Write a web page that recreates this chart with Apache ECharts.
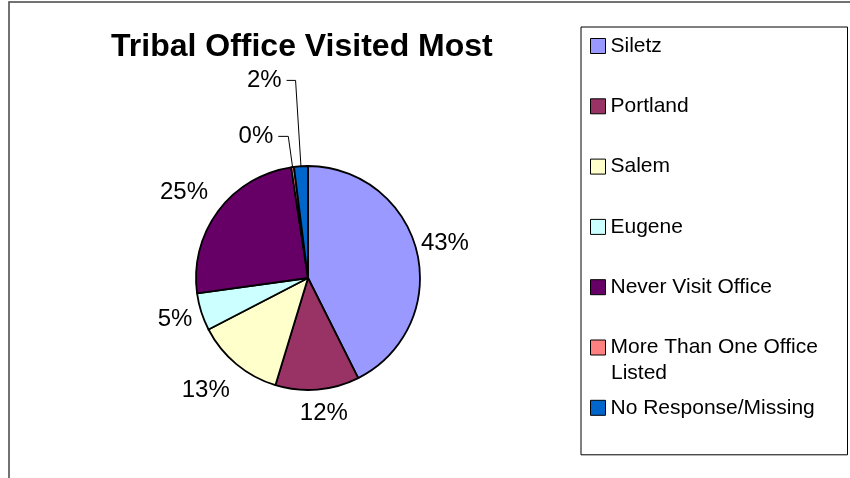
<!DOCTYPE html>
<html>
<head>
<meta charset="utf-8">
<script src="https://cdn.jsdelivr.net/npm/echarts@6/dist/echarts.min.js"></script>
<style>
  html, body { margin: 0; padding: 0; background: #fff; }
  #chart { width: 850px; height: 478px; }
</style>
</head>
<body>
<div id="chart"></div>
<script>
// slices, clockwise from 12 o'clock (percent of respondents)
const offices = ["Siletz", "Portland", "Salem", "Eugene", "Never Visit Office", "More Than One Office Listed", "No Response/Missing"];
const shares = [42.6, 12.1, 12.7, 5.4, 24.8, 0.4, 2.0];
const colors = ["#9999FF", "#993366", "#FFFFCC", "#CCFFFF", "#660066", "#FF8080", "#0066CC"];

// label placement: leader lines only on the two thin slices
const showLine = [false, false, false, false, false, true, true];
const lineLen = [4, 4, 4, 4, 4, 31, 86];
const lineLen2 = [0, 0, 0, 0, 0, 10, 9];
const labelShift = [[-5, -8], [-23, 20], [1, 23], [0, 6], [-2, -16], null, null];

// the long legend entry wraps onto a second line like the original
const wrapName = "More Than One Office Listed";
const wrapFirst = "More Than One Office";
const wrapRest = "Listed";

const font = "'Liberation Sans', Arial, sans-serif";

let pieData = [];
offices.forEach((name, i) => {
  pieData.push({
    name: name,
    value: shares[i],
    itemStyle: { color: colors[i] },
    labelLine: { show: showLine[i], length: lineLen[i], length2: lineLen2[i] },
  });
});

const chart = echarts.init(document.getElementById("chart"));
chart.setOption({
  animation: false,
  backgroundColor: "#fff",
  graphic: [
    {
      type: "rect",
      shape: { x: 9, y: 2, width: 900, height: 500 },
      style: { fill: "none", stroke: "#444", lineWidth: 1.5 },
      silent: true,
    },
    {
      type: "text",
      x: 611,
      y: 373,
      z: 100,
      style: {
        text: wrapRest,
        font: "21px " + font,
        fill: "#000",
        verticalAlign: "middle",
      },
      silent: true,
    },
  ],
  title: {
    text: "Tribal Office Visited Most",
    left: 111,
    top: 31,
    padding: 0,
    textStyle: { fontFamily: font, fontSize: 32, fontWeight: "bold", color: "#000" },
  },
  legend: {
    orient: "vertical",
    left: 581,
    top: 27,
    padding: [6, 17, 34, 9],
    itemGap: 34.3,
    itemWidth: 15,
    itemHeight: 15,
    icon: "rect",
    selectedMode: false,
    backgroundColor: "#fff",
    borderColor: "#000",
    borderWidth: 1,
    itemStyle: { borderColor: "#000", borderWidth: 1 },
    textStyle: {
      fontFamily: font,
      fontSize: 21,
      color: "#000",
      width: 220,
      lineHeight: 26,
    },
    formatter: (name) => (name === wrapName ? wrapFirst : name),
    data: offices,
  },
  series: [
    {
      type: "pie",
      center: [308, 278],
      radius: 112,
      startAngle: 90,
      clockwise: true,
      avoidLabelOverlap: false,
      emphasis: { disabled: true },
      itemStyle: { borderColor: "#000", borderWidth: 1.8 },
      label: {
        position: "outside",
        fontFamily: font,
        fontSize: 24,
        color: "#000",
        formatter: (p) => Math.round(p.percent) + "%",
      },
      labelLine: { lineStyle: { color: "#000", width: 1 } },
      labelLayout: function (params) {
        const s = labelShift[params.dataIndex];
        if (!s) return {};
        return { dx: s[0], dy: s[1] };
      },
      data: pieData,
    },
  ],
});
</script>
</body>
</html>
